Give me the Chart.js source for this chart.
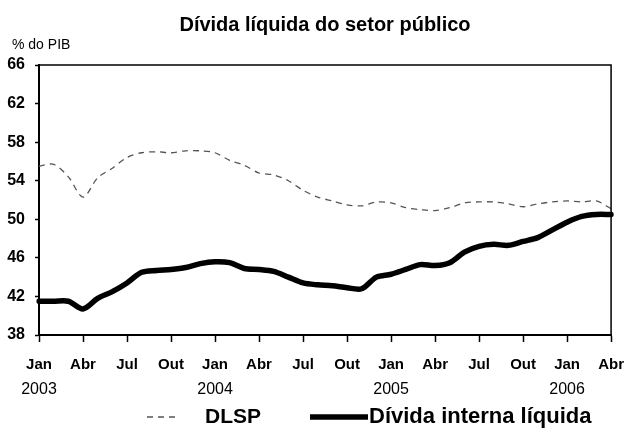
<!DOCTYPE html>
<html><head><meta charset="utf-8">
<script src="https://cdn.jsdelivr.net/npm/chart.js@4.4.0/dist/chart.umd.min.js"></script>
<style>html,body{margin:0;padding:0;background:#fff;} canvas{display:block;}</style>
</head><body>
<canvas id="c" width="638" height="430"></canvas>
<script>
const categories = [
  'Jan 2003','Fev 2003','Mar 2003','Abr 2003','Mai 2003','Jun 2003','Jul 2003','Ago 2003','Set 2003','Out 2003','Nov 2003','Dez 2003',
  'Jan 2004','Fev 2004','Mar 2004','Abr 2004','Mai 2004','Jun 2004','Jul 2004','Ago 2004','Set 2004','Out 2004','Nov 2004','Dez 2004',
  'Jan 2005','Fev 2005','Mar 2005','Abr 2005','Mai 2005','Jun 2005','Jul 2005','Ago 2005','Set 2005','Out 2005','Nov 2005','Dez 2005',
  'Jan 2006','Fev 2006','Mar 2006','Abr 2006'
];
const dlsp = [
  55.5, 55.7, 54.4, 52.3, 54.3, 55.3, 56.4, 56.9, 57.0, 56.9, 57.1, 57.1,
  56.9, 56.1, 55.6, 54.8, 54.6, 54.0, 53.0, 52.3, 51.9, 51.5, 51.4, 51.8,
  51.7, 51.2, 51.0, 50.9, 51.2, 51.7, 51.8, 51.8, 51.6, 51.3, 51.6, 51.8,
  51.9, 51.8, 51.9, 51.1
];
const dividaInterna = [
  41.5, 41.5, 41.5, 40.7, 41.8, 42.5, 43.4, 44.5, 44.7, 44.8, 45.0, 45.4,
  45.6, 45.5, 44.9, 44.8, 44.6, 44.0, 43.4, 43.2, 43.1, 42.9, 42.8, 44.0,
  44.3, 44.8, 45.3, 45.2, 45.5, 46.6, 47.2, 47.4, 47.3, 47.7, 48.1, 48.9,
  49.7, 50.3, 50.5, 50.5
];
const quarterTickLabels = ['Jan','Abr','Jul','Out','Jan','Abr','Jul','Out','Jan','Abr','Jul','Out','Jan','Abr'];
const yearLabels = ['2003','2004','2005','2006'];
const yTicks = [38, 42, 46, 50, 54, 58, 62, 66];
const seriesNames = ['DLSP', 'Dívida interna líquida'];
const chartTitle = 'Dívida líquida do setor público';
const yAxisUnit = '% do PIB';

const FONT = "'Liberation Sans', Arial, Helvetica, sans-serif";

const framePlugin = {
  id: 'frame',
  afterDraw(chart) {
    const {ctx, chartArea: a} = chart;
    ctx.save();
    ctx.strokeStyle = '#000';
    ctx.lineWidth = 1.5;
    ctx.beginPath();
    ctx.moveTo(a.left, a.top);
    ctx.lineTo(a.right, a.top);
    ctx.lineTo(a.right, a.bottom);
    ctx.stroke();
    ctx.restore();
  }
};

const textPlugin = {
  id: 'texts',
  afterDraw(chart) {
    const ctx = chart.ctx;
    const xs = chart.scales.x;
    ctx.save();
    ctx.fillStyle = '#000';
    ctx.textBaseline = 'middle';
    // title
    ctx.font = 'bold 20px ' + FONT;
    ctx.textAlign = 'center';
    ctx.fillText(chartTitle, 325, 25);
    // unit
    ctx.font = '14px ' + FONT;
    ctx.textAlign = 'left';
    ctx.fillText(yAxisUnit, 12, 45);
    // years under the Jan ticks
    ctx.font = '16px ' + FONT;
    ctx.textAlign = 'center';
    yearLabels.forEach((y) => {
      const idx = categories.indexOf('Jan ' + y);
      ctx.fillText(y, xs.getPixelForValue(idx), 390);
    });
    // legend
    const ds = chart.data.datasets;
    const ly = 417;
    ctx.lineCap = 'butt';
    ctx.strokeStyle = ds[0].borderColor;
    ctx.lineWidth = ds[0].borderWidth;
    ctx.setLineDash(ds[0].borderDash);
    ctx.beginPath(); ctx.moveTo(147, ly); ctx.lineTo(179, ly); ctx.stroke();
    ctx.setLineDash([]);
    ctx.strokeStyle = ds[1].borderColor;
    ctx.lineWidth = ds[1].borderWidth;
    ctx.beginPath(); ctx.moveTo(310, ly); ctx.lineTo(368, ly); ctx.stroke();
    ctx.textAlign = 'left';
    ctx.font = 'bold 21px ' + FONT;
    ctx.fillText(ds[0].label, 205, ly);
    ctx.font = 'bold 22px ' + FONT;
    ctx.fillText(ds[1].label, 369, ly);
    ctx.restore();
  }
};

new Chart(document.getElementById('c').getContext('2d'), {
  type: 'line',
  data: {
    labels: categories,
    datasets: [
      { label: seriesNames[0], data: dlsp, borderColor: '#555', borderWidth: 1.3, borderDash: [6, 5],
        pointRadius: 0, tension: 0.3, fill: false },
      { label: seriesNames[1], data: dividaInterna, borderColor: '#000', borderWidth: 5.5,
        pointRadius: 0, tension: 0.3, fill: false, borderCapStyle: 'round', borderJoinStyle: 'round' }
    ]
  },
  options: {
    responsive: false,
    animation: false,
    devicePixelRatio: 1,
    layout: { padding: { top: 65, right: 15, bottom: 0, left: 0 } },
    plugins: { legend: { display: false }, title: { display: false }, tooltip: { enabled: false } },
    scales: {
      x: {
        type: 'category',
        offset: false,
        grid: {
          drawOnChartArea: false, drawTicks: true, tickLength: 7, tickWidth: 1.5,
          tickColor: (c) => (c.index % 3 === 0 ? '#000' : 'rgba(0,0,0,0)')
        },
        border: { display: true, color: '#000', width: 2 },
        ticks: {
          autoSkip: false, maxRotation: 0, minRotation: 0, padding: 14, color: '#000',
          font: { family: FONT, size: 15, weight: 'bold' },
          callback: (v, i) => (i % 3 === 0 ? quarterTickLabels[i / 3] : '')
        },
        afterFit: (s) => { s.height = 95; }
      },
      y: {
        min: 38, max: 66,
        afterBuildTicks: (s) => { s.ticks = yTicks.map(v => ({ value: v })); },
        grid: { drawOnChartArea: false, tickLength: 4, tickWidth: 1.5, tickColor: '#000' },
        border: { display: true, color: '#000', width: 2 },
        ticks: { padding: 10, color: '#000', font: { family: FONT, size: 16, weight: 'bold' } },
        afterFit: (s) => { s.width = 39; }
      }
    }
  },
  plugins: [framePlugin, textPlugin]
});
</script>
</body></html>
